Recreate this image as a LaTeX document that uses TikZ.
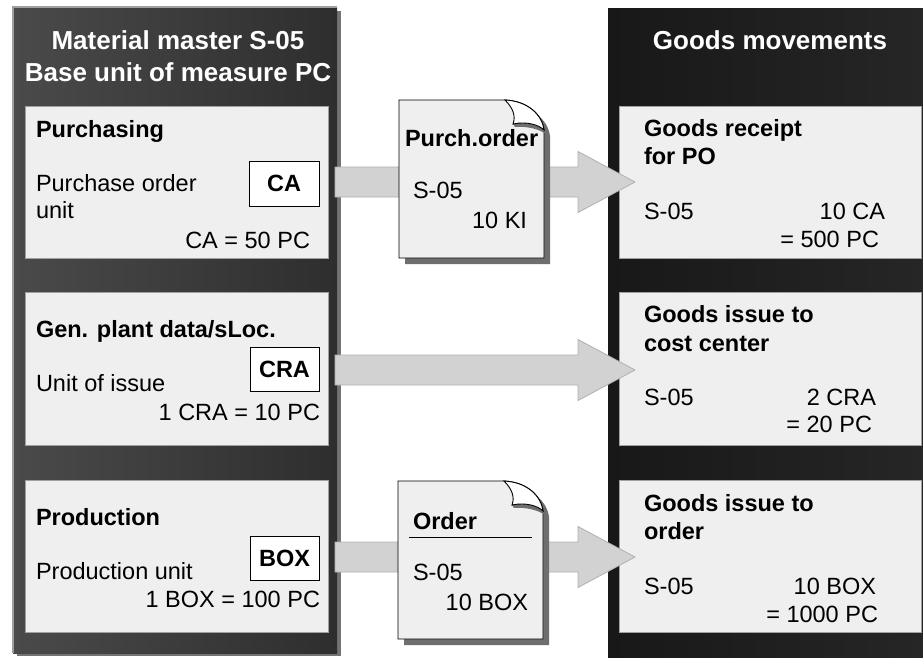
\documentclass[tikz,border=0pt]{standalone}
\usepackage{fontspec}
\setmainfont{Liberation Sans}
\usetikzlibrary{calc}

\definecolor{panelhi}{HTML}{4A4A4A}
\definecolor{panello}{HTML}{2E2E2E}
\definecolor{darkhi}{HTML}{262626}
\definecolor{darklo}{HTML}{181818}
\definecolor{cardfill}{HTML}{EFEFEF}
\definecolor{cardline}{HTML}{A0A0A0}
\definecolor{arrowfill}{HTML}{D2D2D2}
\definecolor{arrowline}{HTML}{B0B0B0}
\definecolor{papershade}{HTML}{6E6E6E}

% block arrow from the right side of one card to the left side of another
\newcommand\flowarrow[3]{%
  \path[flowshape] let \p1=($(#1.east)+(7,#3)$), \p2=($(#2.west)+(16,#3)$) in
    (\x1,\y1+15pt) -- (\x2-57pt,\y1+15pt) -- (\x2-57pt,\y1+30.5pt) -- (\x2,\y1)
    -- (\x2-57pt,\y1-30.5pt) -- (\x2-57pt,\y1-15pt) -- (\x1,\y1-15pt) -- cycle;}

% sheet of paper with a curled top right corner, in local coordinates
\newcommand\papersheet{%
  \fill[papershade] (6,6) -- (112,6) .. controls (134,7) and (149,20) .. (151,36)
    -- (151,164) -- (6,164) -- cycle;
  \filldraw[fill=cardfill, draw=black, line width=0.9pt] (0,0) -- (106,0)
    .. controls (128,1) and (143,14) .. (145,30) -- (145,158) -- (0,158) -- cycle;
  \fill[papershade] (114,24) .. controls (128,21) and (140,25) .. (145,30)
    -- (147,34) .. controls (140,29) and (128,26) .. (116,27) -- cycle;
  \filldraw[fill=white, draw=black, line width=0.9pt] (106,0)
    .. controls (114,8) and (117,16) .. (114,24)
    .. controls (128,21) and (140,25) .. (145,30)
    .. controls (143,14) and (128,1) .. (106,0) -- cycle;}

\begin{document}
\begin{tikzpicture}[x=1pt,y=-1pt,
  every node/.style={inner sep=0pt, outer sep=0pt},
  title/.style={text=white, font=\fontsize{26}{31}\selectfont\bfseries},
  body/.style={text=black, font=\fontsize{23.5}{28}\selectfont},
  head/.style={text=black, font=\fontsize{23.5}{28}\selectfont\bfseries},
  card/.style={fill=cardfill, draw=cardline, line width=1pt, anchor=north west,
    minimum width=303pt, minimum height=152pt},
  unitbox/.style={fill=white, draw=black, line width=1pt, anchor=north west,
    minimum width=70pt, minimum height=45pt, head},
  flowshape/.style={fill=arrowfill, draw=arrowline, line width=0.8pt}]

\useasboundingbox (0,0) rectangle (923,657);
\fill[white] (0,0) rectangle (923,657);

% material master column
\fill[black!55] (17,11) rectangle (341,656);
\node[anchor=north west, minimum width=324pt, minimum height=646pt,
  left color=panelhi, right color=panello] (master) at (13,7) {};
\draw[gray!75, line width=1.2pt] (master.south west) -- (master.north west) -- (master.north east);
\node[title, anchor=base] (mt1) at (178,49) {Material master S-05};
\node[title, anchor=base] (mt2) at (178,81) {Base unit of measure PC};

% goods movements column
\node[anchor=north west, minimum width=315pt, minimum height=649pt,
  left color=darklo, right color=darkhi] (moves) at (608,8) {};
\node[title, anchor=base] (gt) at (770,49) {Goods movements};

% master data views
\node[card] (purch) at (25,106) {};
\node[head, anchor=base west] (purchT) at (36,137) {Purchasing};
\node[body, anchor=base west] (purchA) at (36,191) {Purchase order};
\node[body, anchor=base west] (purchB) at (36,218) {unit};
\node[body, anchor=base east] (purchC) at (310,248) {CA = 50 PC};
\node[unitbox, minimum width=70pt] (uCA) at (249,161) {CA};

\node[card, minimum height=153pt] (plant) at (25,292) {};
\node[head, anchor=base west] (plantT) at (36,337) {Gen. plant data/sLoc.};
\node[body, anchor=base west] (plantA) at (36,391) {Unit of issue};
\node[body, anchor=base east] (plantC) at (320,420) {1 CRA = 10 PC};
\node[unitbox, minimum width=69pt, minimum height=44pt] (uCRA) at (250,347) {CRA};

\node[card] (prod) at (25,480) {};
\node[head, anchor=base west] (prodT) at (36,525) {Production};
\node[body, anchor=base west] (prodA) at (36,579) {Production unit};
\node[body, anchor=base east] (prodC) at (320,607) {1 BOX = 100 PC};
\node[unitbox, minimum width=69pt, minimum height=44pt] (uBOX) at (250,536) {BOX};

% goods movement postings
\node[card, minimum width=302pt] (gr) at (619,106) {};
\node[head, anchor=base west] (grT) at (644,136) {Goods receipt};
\node[head, anchor=base west] (grU) at (644,164) {for PO};
\node[body, anchor=base west] (grA) at (644,219) {S-05};
\node[body, anchor=base east] (grB) at (885,219) {10 CA};
\node[body, anchor=base east] (grC) at (879,247) {= 500 PC};

\node[card, minimum width=302pt, minimum height=153pt] (gicc) at (619,292) {};
\node[head, anchor=base west] (giccT) at (644,322) {Goods issue to};
\node[head, anchor=base west] (giccU) at (644,351) {cost center};
\node[body, anchor=base west] (giccA) at (644,405) {S-05};
\node[body, anchor=base east] (giccB) at (876,405) {2 CRA};
\node[body, anchor=base east] (giccC) at (872,432) {= 20 PC};

\node[card, minimum width=302pt] (gio) at (619,480) {};
\node[head, anchor=base west] (gioT) at (644,511) {Goods issue to};
\node[head, anchor=base west] (gioU) at (644,539) {order};
\node[body, anchor=base west] (gioA) at (644,594) {S-05};
\node[body, anchor=base east] (gioB) at (876,594) {10 BOX};
\node[body, anchor=base east] (gioC) at (878,622) {= 1000 PC};

% flows from the master data views to the postings
\flowarrow{purch}{gr}{0}
\flowarrow{plant}{gicc}{1.5}
\flowarrow{prod}{gio}{1}

% purchase order document
\begin{scope}[shift={(399,100)}]
  \papersheet
  \node[head, anchor=base west] (poT) at (6,46) {Purch.order};
  \node[body, anchor=base west] (poA) at (14,98) {S-05};
  \node[body, anchor=base east] (poB) at (128,128) {10 KI};
\end{scope}

% production order document
\begin{scope}[shift={(398,481)}]
  \papersheet
  \node[head, anchor=base west] (orT) at (15,48) {Order};
  \coordinate (orL) at (11,56);
  \coordinate (orR) at (134,56);
  \draw[line width=1pt] (orL) -- (orR);
  \node[body, anchor=base west] (orA) at (15,99) {S-05};
  \node[body, anchor=base east] (orB) at (130,129) {10 BOX};
\end{scope}

\end{tikzpicture}
\end{document}
